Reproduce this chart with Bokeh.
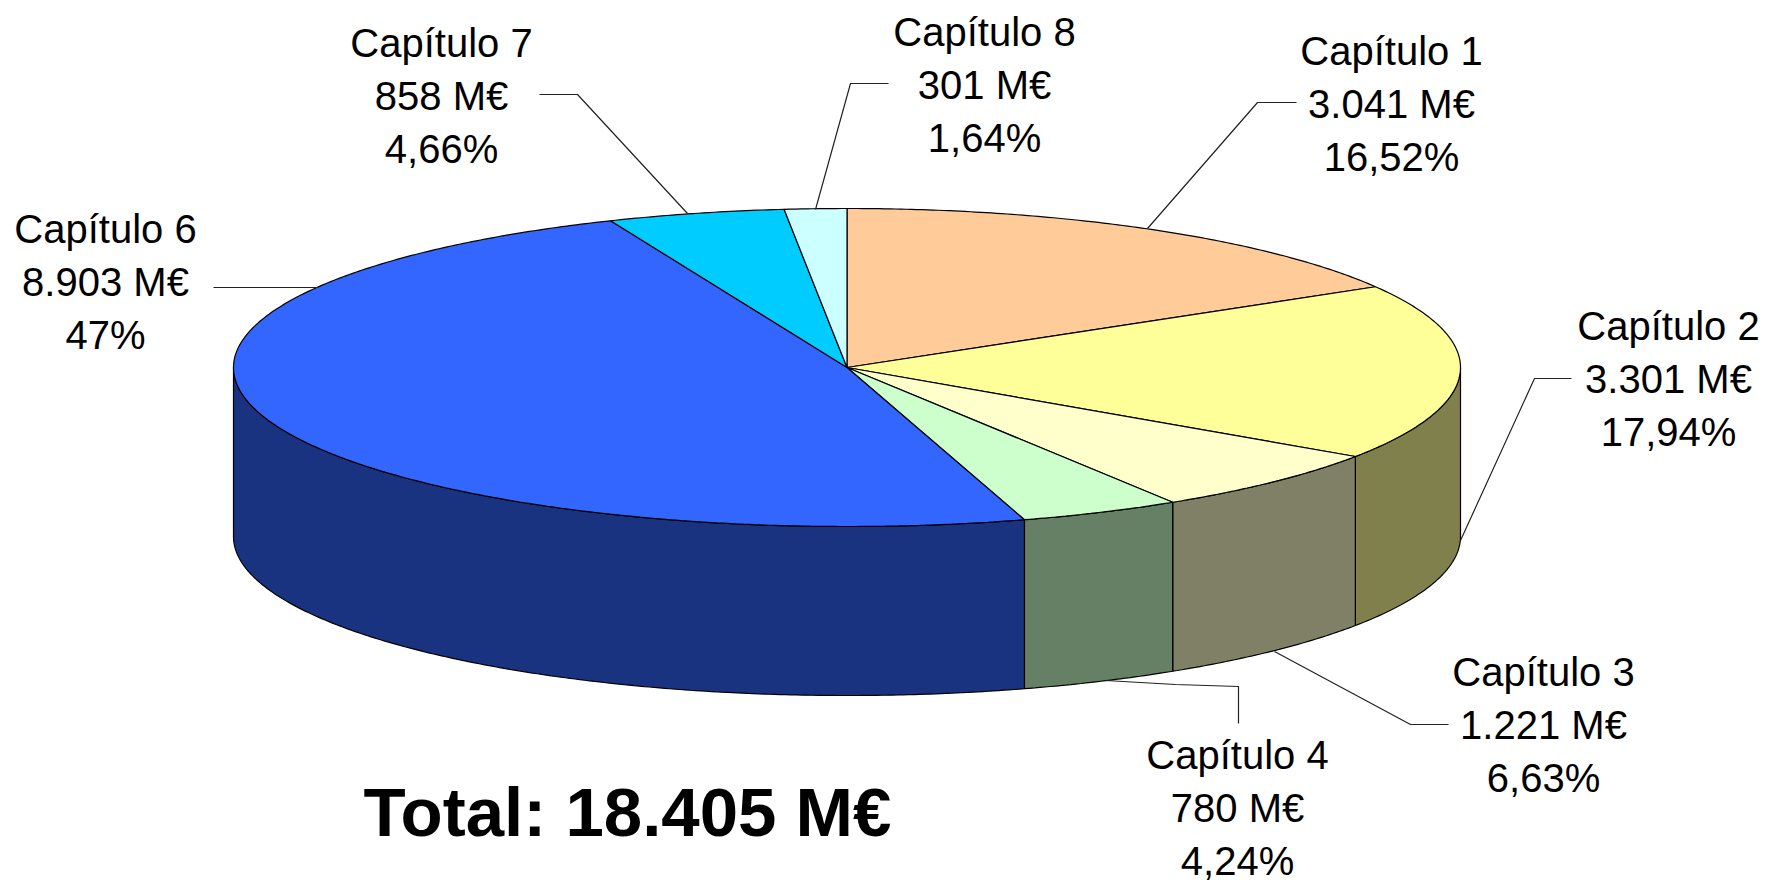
import numpy as np
from bokeh.plotting import figure
from bokeh.models import Range1d
from bokeh.core.properties import value
from bokeh.embed import file_html
from bokeh.resources import INLINE

categories = ["Capítulo 1", "Capítulo 2", "Capítulo 3", "Capítulo 4", "Capítulo 6", "Capítulo 7", "Capítulo 8"]
amounts = [3041, 3301, 1221, 780, 8903, 858, 301]
amount_labels = ["3.041 M€", "3.301 M€", "1.221 M€", "780 M€", "8.903 M€", "858 M€", "301 M€"]
pct_labels = ["16,52%", "17,94%", "6,63%", "4,24%", "47%", "4,66%", "1,64%"]
top_colors = ["#FFCC99", "#FFFF99", "#FFFFCC", "#CCFFCC", "#3366FF", "#00CCFF", "#CCFFFF"]
side_colors = ["#806633", "#80804D", "#808066", "#668066", "#1A3380", "#006680", "#668080"]
total_label = "Total: 18.405 M€"

# layout, in window pixels
CX, CY, RX, RY, DEPTH = 846.5, 367, 613.5, 159, 169
label_x = [1391, 1668, 1543, 1237, 105, 441, 984]
label_y = [50, 325, 671, 754, 228, 42, 31]
LINE_H = 53
leaders = [
    [(1147, 228), (1257, 102), (1296, 102)],
    [(1460, 540), (1534, 378), (1571, 378)],
    [(1274, 651), (1410, 724), (1448, 724)],
    [(1105, 680), (1175, 684), (1238, 686), (1238, 723)],
    [(318, 287), (213, 287)],
    [(687, 213), (577, 94), (539, 94)],
    [(815, 209), (850, 83), (888, 83)],
]

p = figure(width=1767, height=883, output_backend="svg", toolbar_location=None,
           x_range=Range1d(0, 1767), y_range=Range1d(883, 0), min_border=0)
p.axis.visible = False
p.grid.visible = False
p.outline_line_color = None
p.background_fill_color = "white"


def arc(a, b, dy=0.0):
    t = np.radians(np.linspace(a, b, max(2, int(abs(b - a) * 2) + 1)))
    return CX + RX * np.sin(t), CY - RY * np.cos(t) + dy


edges = np.concatenate([[0], np.cumsum(amounts)]) / sum(amounts) * 360.0

side_x, side_y, side_c = [], [], []
top_x, top_y = [], []
for i in range(len(amounts)):
    a, b = edges[i], edges[i + 1]
    x, y = arc(a, b)
    top_x.append(np.concatenate([[CX], x]).tolist())
    top_y.append(np.concatenate([[CY], y]).tolist())
    lo, hi = max(a, 90), min(b, 270)
    if lo < hi:
        x1, y1 = arc(lo, hi)
        x2, y2 = arc(lo, hi, DEPTH)
        side_x.append(np.concatenate([x1, x2[::-1]]).tolist())
        side_y.append(np.concatenate([y1, y2[::-1]]).tolist())
        side_c.append(side_colors[i])

p.patches(side_x, side_y, fill_color=side_c, line_color="black", line_width=1.2)
p.patches(top_x, top_y, fill_color=top_colors, line_color="black", line_width=1.2)

p.multi_line([[q[0] for q in l] for l in leaders], [[q[1] for q in l] for l in leaders],
             line_color="#222222", line_width=1.2)

tx, ty, tt = [], [], []
for i in range(len(categories)):
    for j, s in enumerate((categories[i], amount_labels[i], pct_labels[i])):
        tx.append(label_x[i])
        ty.append(label_y[i] + j * LINE_H)
        tt.append(s)
p.text(tx, ty, text=tt, text_font=value("Liberation Sans"), text_font_size="40px",
       text_align="center", text_baseline="middle", text_color="black")
p.text([627], [812], text=[total_label], text_font=value("Liberation Sans"), text_font_size="69px",
       text_font_style="bold", text_align="center", text_baseline="middle", text_color="black")

open("out.html", "w").write(file_html(p, INLINE))
